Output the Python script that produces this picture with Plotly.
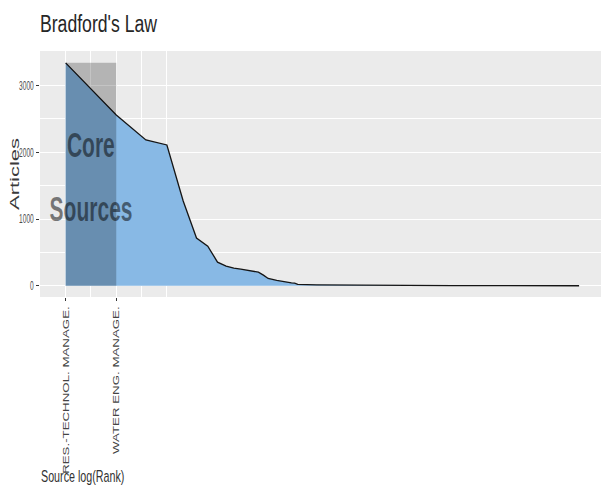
import json
import numpy as np
import plotly.graph_objects as go

# Data (rank of source, number of articles)
ranks = [1, 2, 3, 4, 5, 6, 7, 8, 9, 10, 11, 12, 13, 14, 15, 16, 18, 20, 22, 23, 24,
         31, 40, 60, 100, 200, 400, 700, 1130]
articles = [3340, 2560, 2185, 2110, 1270, 715, 595, 355, 295, 265, 250, 235, 220, 205,
            160, 111, 80, 57, 45, 40, 22, 15, 12, 8, 5, 3, 2, 1, 1]
core_sources = ["RES.-TECHNOL. MANAGE.", "WATER ENG. MANAGE."]
core_ranks = [1, 2]
y_ticks = [0, 1000, 2000, 3000]
y_minor = [500, 1500, 2500]

x = np.log(ranks)
core_x = np.log(core_ranks)
x_minor = [core_x[1] / 2, core_x[1] * 1.5, core_x[1] * 2]

FONT = "Liberation Sans, Arial, sans-serif"

W, H = 601, 489
ml, mr, mt, mb = 40, 0, 51, 192

fig = go.Figure()
fig.add_trace(go.Scatter(
    x=x, y=articles, mode="lines", fill="tozeroy",
    fillcolor="#88B9E5", line=dict(color="#151515", width=1.3),
    hoverinfo="skip", showlegend=False))

fig.add_shape(type="rect", xref="x", yref="y", x0=0, x1=core_x[-1],
              y0=0, y1=max(articles), fillcolor="rgba(0,0,0,0.23)",
              line=dict(width=0), layer="above")

ymid = max(articles) / 2
for label, shift in (("Core", 30), ("Sources", -34)):
    fig.add_annotation(x=core_x[-1] / 2, y=ymid, xref="x", yref="y",
                       text="<b>" + label + "</b>", showarrow=False, yshift=shift,
                       font=dict(family=FONT, size=35, color="rgba(0,0,0,0.5)"),
                       xanchor="center", yanchor="middle")

ph = H - mt - mb
# axis titles
fig.add_annotation(text="Articles", xref="paper", yref="paper",
                   x=(14 - ml) / (W - ml - mr), y=(ph - (174 - mt)) / ph, textangle=-90,
                   showarrow=False, xanchor="center", yanchor="middle",
                   font=dict(family=FONT, size=22, color="#3a3a3a"))
fig.add_annotation(text="Source log(Rank)", xref="paper", yref="paper",
                   x=(39 - ml) / (W - ml - mr), y=(ph - (476 - mt)) / ph, showarrow=False,
                   xanchor="left", yanchor="middle", align="left",
                   font=dict(family=FONT, size=16.5, color="#333333"))

fig.update_layout(
    width=W, height=H,
    margin=dict(l=ml, r=mr, t=mt, b=mb, autoexpand=False),
    paper_bgcolor="white", plot_bgcolor="#EBEBEB",
    title=dict(text="Bradford's Law", x=ml / W, xanchor="left",
               y=1 - 23.5 / H, yanchor="middle", yref="container",
               font=dict(family=FONT, size=24.5, color="#262626")),
    xaxis=dict(range=[-0.351, 7.33], tickmode="array", tickvals=core_x,
               ticktext=core_sources, tickangle=-90,
               ticks="outside", ticklen=3, tickcolor="#333333", tickwidth=1,
               tickfont=dict(family=FONT, size=13.3, color="#444444"),
               showgrid=True, gridcolor="white", gridwidth=1,
               zeroline=False, showline=False,
               minor=dict(tickmode="array", tickvals=x_minor, showgrid=True,
                          gridcolor="white", gridwidth=0.5, ticks="")),
    yaxis=dict(range=[-167.5, 3517.5], tickmode="array", tickvals=y_ticks,
               ticktext=[str(v) for v in y_ticks],
               ticks="outside", ticklen=3, tickcolor="#333333", tickwidth=1,
               tickfont=dict(family=FONT, size=12, color="#4D4D4D"),
               showgrid=True, gridcolor="white", gridwidth=1,
               zeroline=False, showline=False,
               minor=dict(tickmode="array", tickvals=y_minor, showgrid=True,
                          gridcolor="white", gridwidth=0.5, ticks="")),
)

# horizontal squeeze of the text, as in the (horizontally compressed) reference
ann_scale = {"Core": [0.6, 1, "c"], "Sources": [0.6, 1, "c"],
             "Source log(Rank)": [0.65, 1, "l"], "Articles": [1, 0.55, "c"]}
js = """
document.body.style.margin = '0';
var gd = document.getElementsByClassName('plotly-graph-div')[0];
function sq(el, sx, sy, mode, dy) {
  var bb = el.getBBox();
  var ax = mode === 'l' ? bb.x : (mode === 'r' ? bb.x + bb.width : bb.x + bb.width / 2);
  var ay = bb.y + bb.height / 2;
  var cur = el.getAttribute('transform') || '';
  el.setAttribute('transform', 'translate(0,' + (dy || 0) + ') ' + cur +
                  ' translate(' + ax + ',' + ay + ') scale(' + sx + ',' + sy +
                  ') translate(' + (-ax) + ',' + (-ay) + ')');
}
var SC = __SC__;
gd.querySelectorAll('.gtitle').forEach(function (e) { sq(e, 0.72, 1, 'l', 0); });
gd.querySelectorAll('.ytick text').forEach(function (e) { sq(e, 0.55, 1, 'r', 0); });
gd.querySelectorAll('.xtick text').forEach(function (e) { sq(e, 1, 0.68, 'c', 0); });
gd.querySelectorAll('.annotation-text').forEach(function (e) {
  var s = SC[e.textContent];
  if (s) { sq(e, s[0], s[1], s[2], 0); }
});
""".replace("__SC__", json.dumps(ann_scale))

fig.write_html("out.html", config={"displayModeBar": False}, post_script=js)
